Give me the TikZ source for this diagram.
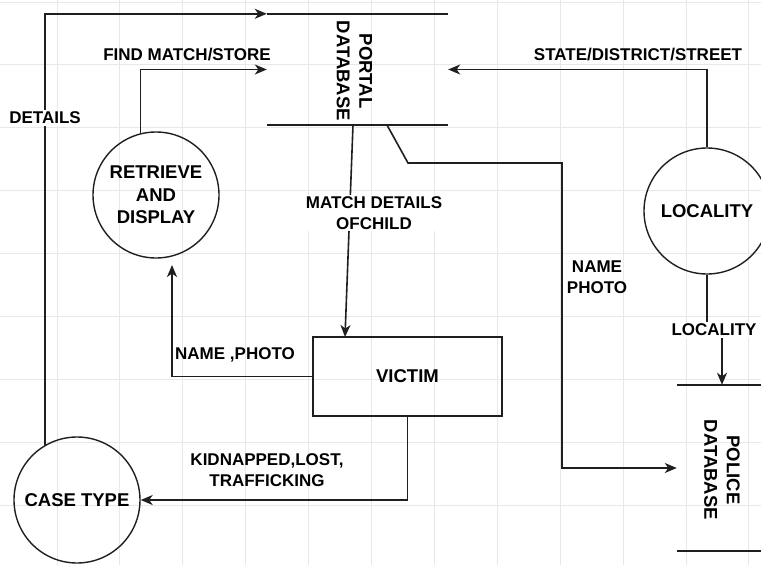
\documentclass[tikz,border=0pt]{standalone}
\usepackage{fontspec}
\setmainfont{Liberation Sans}
\usetikzlibrary{arrows.meta,calc}
\begin{document}
\begin{tikzpicture}[x=1pt,y=-1pt,
  gridl/.style={draw=black!9, line width=0.9pt},
  line/.style={draw=black!88, line width=1.6pt},
  arr/.style={line, -{Stealth[length=12pt,width=10pt,inset=3.5pt]}},
  proc/.style={circle, draw=black!88, line width=1.4pt, minimum size=126pt, inner sep=0pt, align=center, font=\fontsize{18.5}{22.5}\selectfont\bfseries},
  ntext/.style={align=center, inner sep=0pt, font=\fontsize{18.5}{22.5}\selectfont\bfseries},
  lbl/.style={align=center, font=\fontsize{17}{21}\selectfont\bfseries, inner sep=1.5pt},
  wlbl/.style={lbl, fill=white},
  store/.style={minimum width=181pt, minimum height=111pt, inner sep=0pt},
]
\useasboundingbox (0,0) rectangle (761,565);
\clip (0,0) rectangle (761,565);
\fill[white] (0,0) rectangle (761,565);
% grid
\foreach \i in {0,...,11} \draw[gridl] ({57+62.9*\i},0) -- ({57+62.9*\i},565);
\foreach \j in {0,...,8} \draw[gridl] (0,{2+62.9*\j}) -- (761,{2+62.9*\j});

% data stores
\node[store] (portal) at (357.5,69.5) {};
\node[ntext, rotate=-90] (portaltxt) at (354.5,71) {PORTAL\\DATABASE};
\draw[line] (portal.north west) -- (portal.north east);
\draw[line] (portal.south west) -- (portal.south east);

\node[store, minimum width=90pt, minimum height=166pt] (police) at (722,468) {};
\node[ntext, rotate=-90] (policetxt) at (722,470) {POLICE\\DATABASE};
\draw[line] (police.north west) -- (police.north east);
\draw[line] (police.south west) -- (police.south east);

% processes
\node[proc] (ret) at (156,195) {RETRIEVE\\AND\\DISPLAY};
\node[proc] (loc) at (707,211) {LOCALITY};
\node[proc] (case) at (77,500) {CASE TYPE};

% entity
\node[draw=black!88, line width=1.4pt, minimum width=189pt, minimum height=79pt, inner sep=0pt,
      font=\fontsize{18.5}{22.5}\selectfont\bfseries] (victim) at (407.5,376.5) {VICTIM};

% coordinates
\coordinate (mdtop) at (353,125);
\coordinate (mdbot) at (345,337);
\coordinate (np1) at (387,125);
\coordinate (np2) at (408,163);
\coordinate (np3) at (562,163);
\coordinate (lj) at (715,330);
\coordinate (rs) at (172,265);

% connectors
\draw[arr] (case.120.5) |- (portal.north west);
\node[wlbl] (detailslbl) at (45,118) {DETAILS};

\draw[arr] (ret.104.7) |- (portal.west);
\node[lbl] (findlbl) at (187,55) {FIND MATCH/STORE};

\draw[arr] (loc.north) |- (portal.east);
\node[lbl] (statelbl) at (638,55) {STATE/DISTRICT/STREET};

\draw[arr] (mdtop) -- (mdbot);
\node[wlbl] (mdlbl) at (374,213) {MATCH DETAILS\\OFCHILD};

\draw[arr] (np1) -- (np2) -- (np3) |- (police.west);
\node[lbl] (nplbl) at (597,277) {NAME\\PHOTO};

\draw[arr] (loc.south) |- (lj) -| (police.north);
\node[wlbl] (loclbl) at (714,330) {LOCALITY};

\draw[arr] (victim.west) -| (rs);
\node[lbl] (nplbl2) at (235,355) {NAME ,PHOTO};

\draw[arr] (victim.south) |- (case.east);
\node[lbl] (kidlbl) at (267,470) {KIDNAPPED,LOST,\\TRAFFICKING};
\end{tikzpicture}
\end{document}
